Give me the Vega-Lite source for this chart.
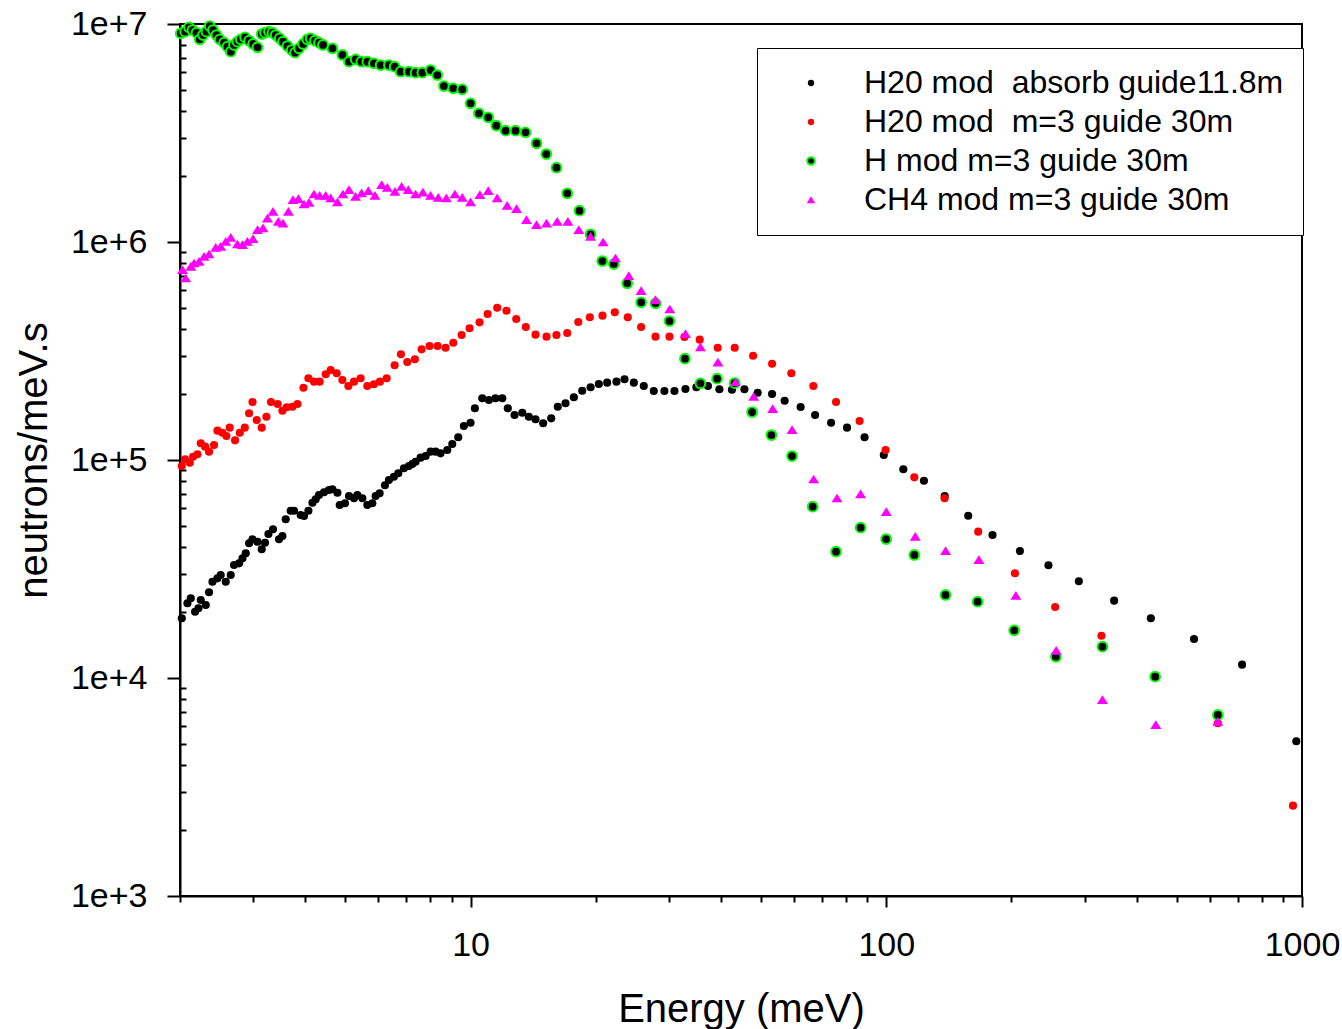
{
  "$schema": "https://vega.github.io/schema/vega-lite/v6.json",
  "width": 1122,
  "height": 872,
  "autosize": {"type": "none"},
  "padding": {"left": 180, "top": 24, "right": 40, "bottom": 133},
  "background": "white",
  "config": {
    "font": "Liberation Sans",
    "view": {"stroke": "black", "strokeWidth": 2},
    "axis": {
      "domainColor": "black", "domainWidth": 2, "tickColor": "black", "tickWidth": 2,
      "labelColor": "black", "titleColor": "black", "labelFont": "Liberation Sans", "titleFont": "Liberation Sans",
      "labelFontSize": 34, "titleFontSize": 40, "titleFontWeight": "normal", "grid": false,
      "labelOverlap": false, "labelFlush": false
    }
  },
  "data": {"values": [
    {"k":"a","E":2.020,"F":18790},{"k":"a","E":2.084,"F":22020},{"k":"a","E":2.123,"F":23210},{"k":"a","E":2.174,"F":20140},{"k":"a","E":2.215,"F":20880},{"k":"a","E":2.244,"F":22800},{"k":"a","E":2.307,"F":21620},{"k":"a","E":2.349,"F":24730},{"k":"a","E":2.394,"F":27650},{"k":"a","E":2.461,"F":28660},
    {"k":"a","E":2.506,"F":29680},{"k":"a","E":2.577,"F":27650},{"k":"a","E":2.649,"F":29680},{"k":"a","E":2.698,"F":32980},{"k":"a","E":2.774,"F":33580},{"k":"a","E":2.827,"F":35400},{"k":"a","E":2.879,"F":37330},{"k":"a","E":2.932,"F":41480},{"k":"a","E":2.988,"F":43270},{"k":"a","E":3.072,"F":42190},
    {"k":"a","E":3.145,"F":38950},{"k":"a","E":3.203,"F":41750},{"k":"a","E":3.264,"F":45770},{"k":"a","E":3.348,"F":48100},{"k":"a","E":3.461,"F":43270},{"k":"a","E":3.527,"F":44810},{"k":"a","E":3.592,"F":53460},{"k":"a","E":3.693,"F":58530},{"k":"a","E":3.761,"F":58530},{"k":"a","E":3.903,"F":55940},
    {"k":"a","E":3.975,"F":55350},{"k":"a","E":4.073,"F":58530},{"k":"a","E":4.165,"F":63700},{"k":"a","E":4.241,"F":66030},{"k":"a","E":4.319,"F":69090},{"k":"a","E":4.441,"F":71090},{"k":"a","E":4.565,"F":72850},{"k":"a","E":4.652,"F":73390},{"k":"a","E":4.783,"F":70790},{"k":"a","E":4.844,"F":62180},
    {"k":"a","E":4.988,"F":63310},{"k":"a","E":5.100,"F":68380},{"k":"a","E":5.243,"F":66730},{"k":"a","E":5.342,"F":69090},{"k":"a","E":5.491,"F":66730},{"k":"a","E":5.645,"F":62180},{"k":"a","E":5.803,"F":63310},{"k":"a","E":5.910,"F":68380},{"k":"a","E":6.043,"F":70340},{"k":"a","E":6.223,"F":76540},
    {"k":"a","E":6.362,"F":80960},{"k":"a","E":6.540,"F":83820},{"k":"a","E":6.702,"F":86900},{"k":"a","E":6.913,"F":91600},{"k":"a","E":7.107,"F":93860},{"k":"a","E":7.242,"F":95870},{"k":"a","E":7.375,"F":98220},{"k":"a","E":7.583,"F":102500},{"k":"a","E":7.796,"F":104300},{"k":"a","E":8.013,"F":109200},
    {"k":"a","E":8.238,"F":109200},{"k":"a","E":8.469,"F":107300},{"k":"a","E":8.790,"F":111200},{"k":"a","E":9.036,"F":118400},{"k":"a","E":9.341,"F":127100},{"k":"a","E":9.636,"F":143200},{"k":"a","E":10.00,"F":148300},{"k":"a","E":10.24,"F":172700},{"k":"a","E":10.67,"F":191900},{"k":"a","E":11.07,"F":188500},
    {"k":"a","E":11.48,"F":191900},{"k":"a","E":11.92,"F":191900},{"k":"a","E":12.29,"F":172700},{"k":"a","E":12.76,"F":160900},{"k":"a","E":13.32,"F":164800},{"k":"a","E":13.81,"F":158000},{"k":"a","E":14.33,"F":153700},{"k":"a","E":14.95,"F":147400},{"k":"a","E":15.63,"F":155300},{"k":"a","E":16.21,"F":175600},
    {"k":"a","E":16.92,"F":182000},{"k":"a","E":17.72,"F":193900},{"k":"a","E":18.56,"F":207900},{"k":"a","E":19.44,"F":215500},{"k":"a","E":20.35,"F":223200},{"k":"a","E":21.31,"F":226300},{"k":"a","E":22.44,"F":228700},{"k":"a","E":23.46,"F":234500},{"k":"a","E":24.70,"F":226300},{"k":"a","E":26.10,"F":218500},
    {"k":"a","E":27.59,"F":207300},{"k":"a","E":29.26,"F":207300},{"k":"a","E":30.94,"F":207300},{"k":"a","E":32.88,"F":211700},{"k":"a","E":34.93,"F":215500},{"k":"a","E":37.24,"F":218500},{"k":"a","E":39.68,"F":211000},{"k":"a","E":42.53,"F":210100},{"k":"a","E":45.57,"F":211000},{"k":"a","E":49.05,"F":203500},
    {"k":"a","E":53.12,"F":200800},{"k":"a","E":56.95,"F":187100},{"k":"a","E":62.23,"F":175000},{"k":"a","E":67.41,"F":160900},{"k":"a","E":73.66,"F":148300},{"k":"a","E":80.46,"F":140700},{"k":"a","E":88.66,"F":127100},{"k":"a","E":98.63,"F":105400},{"k":"a","E":109.9,"F":90640},{"k":"a","E":123.2,"F":80360},
    {"k":"a","E":138.2,"F":68380},{"k":"a","E":157.4,"F":55530},{"k":"a","E":180.1,"F":45290},{"k":"a","E":209.6,"F":38250},{"k":"a","E":245.5,"F":32890},{"k":"a","E":290.5,"F":27770},{"k":"a","E":353.3,"F":22630},{"k":"a","E":432.9,"F":18790},{"k":"a","E":550.0,"F":15100},{"k":"a","E":717.5,"F":11510},
    {"k":"a","E":969.0,"F":5124},
    {"k":"b","E":2.020,"F":93860},{"k":"b","E":2.057,"F":100700},{"k":"b","E":2.111,"F":97190},{"k":"b","E":2.150,"F":103500},{"k":"b","E":2.203,"F":106200},{"k":"b","E":2.244,"F":119300},{"k":"b","E":2.298,"F":115100},{"k":"b","E":2.349,"F":109200},{"k":"b","E":2.415,"F":117200},{"k":"b","E":2.461,"F":136300},
    {"k":"b","E":2.530,"F":133400},{"k":"b","E":2.586,"F":128900},{"k":"b","E":2.634,"F":140700},{"k":"b","E":2.713,"F":123100},{"k":"b","E":2.785,"F":133400},{"k":"b","E":2.863,"F":140700},{"k":"b","E":2.932,"F":163800},{"k":"b","E":2.988,"F":184600},{"k":"b","E":3.059,"F":152600},{"k":"b","E":3.145,"F":140700},
    {"k":"b","E":3.228,"F":158000},{"k":"b","E":3.311,"F":184600},{"k":"b","E":3.436,"F":180700},{"k":"b","E":3.527,"F":168300},{"k":"b","E":3.612,"F":174500},{"k":"b","E":3.728,"F":175600},{"k":"b","E":3.833,"F":180700},{"k":"b","E":3.963,"F":214600},{"k":"b","E":4.073,"F":237000},{"k":"b","E":4.201,"F":228700},
    {"k":"b","E":4.335,"F":228700},{"k":"b","E":4.482,"F":247300},{"k":"b","E":4.608,"F":258700},{"k":"b","E":4.764,"F":249900},{"k":"b","E":4.916,"F":232800},{"k":"b","E":5.082,"F":218500},{"k":"b","E":5.243,"F":228700},{"k":"b","E":5.439,"F":237000},{"k":"b","E":5.645,"F":218500},{"k":"b","E":5.854,"F":222500},
    {"k":"b","E":6.053,"F":228700},{"k":"b","E":6.282,"F":237000},{"k":"b","E":6.566,"F":271900},{"k":"b","E":6.800,"F":305400},{"k":"b","E":7.043,"F":281500},{"k":"b","E":7.346,"F":289700},{"k":"b","E":7.625,"F":321900},{"k":"b","E":7.969,"F":333300},{"k":"b","E":8.330,"F":333300},{"k":"b","E":8.708,"F":327400},
    {"k":"b","E":9.087,"F":345200},{"k":"b","E":9.515,"F":374500},{"k":"b","E":9.945,"F":401900},{"k":"b","E":10.51,"F":428100},{"k":"b","E":10.99,"F":467400},{"k":"b","E":11.59,"F":499500},{"k":"b","E":12.20,"F":484000},{"k":"b","E":12.88,"F":443500},{"k":"b","E":13.58,"F":407500},{"k":"b","E":14.33,"F":375700},
    {"k":"b","E":15.23,"F":367900},{"k":"b","E":16.09,"F":374500},{"k":"b","E":17.08,"F":382500},{"k":"b","E":18.16,"F":429600},{"k":"b","E":19.36,"F":451500},{"k":"b","E":20.77,"F":459200},{"k":"b","E":22.23,"F":476000},{"k":"b","E":23.89,"F":451500},{"k":"b","E":25.72,"F":407500},{"k":"b","E":27.85,"F":367900},
    {"k":"b","E":30.09,"F":367900},{"k":"b","E":32.69,"F":366700},{"k":"b","E":35.58,"F":356400},{"k":"b","E":39.30,"F":327400},{"k":"b","E":43.19,"F":327400},{"k":"b","E":47.82,"F":300900},{"k":"b","E":53.12,"F":276500},{"k":"b","E":59.10,"F":249900},{"k":"b","E":66.77,"F":218500},{"k":"b","E":75.70,"F":184600},
    {"k":"b","E":86.26,"F":151000},{"k":"b","E":99.6,"F":111200},{"k":"b","E":116.8,"F":83280},{"k":"b","E":138.1,"F":66730},{"k":"b","E":166.4,"F":46900},{"k":"b","E":203.9,"F":30220},{"k":"b","E":254.8,"F":21170},{"k":"b","E":329.3,"F":15630},{"k":"b","E":443.3,"F":10210},{"k":"b","E":627.3,"F":6197},
    {"k":"b","E":951.4,"F":2596},
    {"k":"c","E":2.008,"F":9064000},{"k":"c","E":2.057,"F":9220000},{"k":"c","E":2.102,"F":9658000},{"k":"c","E":2.143,"F":9386000},{"k":"c","E":2.191,"F":9123000},{"k":"c","E":2.231,"F":8508000},{"k":"c","E":2.272,"F":8903000},{"k":"c","E":2.315,"F":9220000},{"k":"c","E":2.358,"F":9790000},{"k":"c","E":2.401,"F":9386000},
    {"k":"c","E":2.447,"F":8903000},{"k":"c","E":2.493,"F":8508000},{"k":"c","E":2.553,"F":8207000},{"k":"c","E":2.601,"F":7868000},{"k":"c","E":2.649,"F":7463000},{"k":"c","E":2.698,"F":8012000},{"k":"c","E":2.749,"F":8295000},{"k":"c","E":2.800,"F":8508000},{"k":"c","E":2.868,"F":8690000},{"k":"c","E":2.932,"F":8383000},
    {"k":"c","E":2.997,"F":8097000},{"k":"c","E":3.072,"F":7818000},{"k":"c","E":3.145,"F":8997000},{"k":"c","E":3.203,"F":9123000},{"k":"c","E":3.275,"F":9220000},{"k":"c","E":3.337,"F":9123000},{"k":"c","E":3.399,"F":8903000},{"k":"c","E":3.474,"F":8599000},{"k":"c","E":3.539,"F":8295000},{"k":"c","E":3.626,"F":7926000},
    {"k":"c","E":3.713,"F":7598000},{"k":"c","E":3.782,"F":7385000},{"k":"c","E":3.867,"F":7736000},{"k":"c","E":3.954,"F":8097000},{"k":"c","E":4.050,"F":8508000},{"k":"c","E":4.124,"F":8599000},{"k":"c","E":4.224,"F":8383000},{"k":"c","E":4.319,"F":8207000},{"k":"c","E":4.416,"F":8012000},{"k":"c","E":4.652,"F":7736000},
    {"k":"c","E":4.916,"F":7209000},{"k":"c","E":5.100,"F":6716000},{"k":"c","E":5.291,"F":6888000},{"k":"c","E":5.461,"F":6716000},{"k":"c","E":5.645,"F":6716000},{"k":"c","E":5.854,"F":6603000},{"k":"c","E":6.076,"F":6485000},{"k":"c","E":6.362,"F":6485000},{"k":"c","E":6.566,"F":6370000},{"k":"c","E":6.787,"F":6041000},
    {"k":"c","E":7.107,"F":6041000},{"k":"c","E":7.375,"F":5978000},{"k":"c","E":7.655,"F":5978000},{"k":"c","E":8.013,"F":6151000},{"k":"c","E":8.316,"F":5835000},{"k":"c","E":8.627,"F":5195000},{"k":"c","E":9.087,"F":5070000},{"k":"c","E":9.550,"F":5017000},{"k":"c","E":10.00,"F":4327000},{"k":"c","E":10.47,"F":3895000},
    {"k":"c","E":11.03,"F":3732000},{"k":"c","E":11.53,"F":3416000},{"k":"c","E":12.14,"F":3240000},{"k":"c","E":12.83,"F":3240000},{"k":"c","E":13.56,"F":3185000},{"k":"c","E":14.41,"F":2837000},{"k":"c","E":15.21,"F":2533000},{"k":"c","E":16.09,"F":2192000},{"k":"c","E":17.08,"F":1673000},{"k":"c","E":18.28,"F":1392000},
    {"k":"c","E":19.44,"F":1085000},{"k":"c","E":20.74,"F":818000},{"k":"c","E":22.11,"F":792500},{"k":"c","E":23.81,"F":646400},{"k":"c","E":25.72,"F":528800},{"k":"c","E":27.85,"F":523300},{"k":"c","E":30.09,"F":434100},{"k":"c","E":32.78,"F":291500},{"k":"c","E":35.72,"F":224800},{"k":"c","E":39.17,"F":236000},
    {"k":"c","E":43.17,"F":225500},{"k":"c","E":47.55,"F":166000},{"k":"c","E":52.92,"F":130200},{"k":"c","E":59.33,"F":104300},{"k":"c","E":66.51,"F":61070},{"k":"c","E":75.70,"F":37970},{"k":"c","E":86.74,"F":48910},{"k":"c","E":99.9,"F":43410},{"k":"c","E":116.8,"F":36670},{"k":"c","E":138.8,"F":24030},
    {"k":"c","E":165.8,"F":22390},{"k":"c","E":203.1,"F":16550},{"k":"c","E":255.8,"F":12520},{"k":"c","E":331.1,"F":13920},{"k":"c","E":443.3,"F":10140},{"k":"c","E":627.3,"F":6767},
    {"k":"d","E":2.028,"F":743900},{"k":"d","E":2.065,"F":681500},{"k":"d","E":2.123,"F":770300},{"k":"d","E":2.162,"F":798500},{"k":"d","E":2.223,"F":812000},{"k":"d","E":2.285,"F":856100},{"k":"d","E":2.349,"F":878100},{"k":"d","E":2.438,"F":941600},{"k":"d","E":2.506,"F":951500},{"k":"d","E":2.577,"F":1003000},
    {"k":"d","E":2.649,"F":1046000},{"k":"d","E":2.749,"F":975900},{"k":"d","E":2.827,"F":968700},{"k":"d","E":2.905,"F":1003000},{"k":"d","E":2.997,"F":1032000},{"k":"d","E":3.072,"F":1135000},{"k":"d","E":3.168,"F":1156000},{"k":"d","E":3.246,"F":1284000},{"k":"d","E":3.348,"F":1377000},{"k":"d","E":3.449,"F":1239000},
    {"k":"d","E":3.539,"F":1218000},{"k":"d","E":3.646,"F":1377000},{"k":"d","E":3.740,"F":1558000},{"k":"d","E":3.854,"F":1575000},{"k":"d","E":3.975,"F":1489000},{"k":"d","E":4.086,"F":1515000},{"k":"d","E":4.201,"F":1655000},{"k":"d","E":4.335,"F":1631000},{"k":"d","E":4.482,"F":1631000},{"k":"d","E":4.608,"F":1587000},
    {"k":"d","E":4.783,"F":1521000},{"k":"d","E":4.932,"F":1655000},{"k":"d","E":5.100,"F":1732000},{"k":"d","E":5.291,"F":1614000},{"k":"d","E":5.470,"F":1673000},{"k":"d","E":5.676,"F":1714000},{"k":"d","E":5.888,"F":1631000},{"k":"d","E":6.111,"F":1826000},{"k":"d","E":6.306,"F":1775000},{"k":"d","E":6.577,"F":1701000},
    {"k":"d","E":6.826,"F":1794000},{"k":"d","E":7.083,"F":1732000},{"k":"d","E":7.375,"F":1655000},{"k":"d","E":7.680,"F":1690000},{"k":"d","E":8.013,"F":1631000},{"k":"d","E":8.363,"F":1597000},{"k":"d","E":8.742,"F":1587000},{"k":"d","E":9.169,"F":1655000},{"k":"d","E":9.550,"F":1597000},{"k":"d","E":10.00,"F":1521000},
    {"k":"d","E":10.53,"F":1643000},{"k":"d","E":11.03,"F":1714000},{"k":"d","E":11.59,"F":1587000},{"k":"d","E":12.25,"F":1467000},{"k":"d","E":12.90,"F":1417000},{"k":"d","E":13.63,"F":1262000},{"k":"d","E":14.41,"F":1197000},{"k":"d","E":15.23,"F":1218000},{"k":"d","E":16.16,"F":1239000},{"k":"d","E":17.14,"F":1239000},
    {"k":"d","E":18.21,"F":1135000},{"k":"d","E":19.44,"F":1057000},{"k":"d","E":20.84,"F":996800},{"k":"d","E":22.32,"F":841800},{"k":"d","E":24.02,"F":698200},{"k":"d","E":25.72,"F":595900},{"k":"d","E":27.85,"F":542000},{"k":"d","E":30.14,"F":491200},{"k":"d","E":32.88,"F":378400},{"k":"d","E":35.72,"F":328900},
    {"k":"d","E":39.36,"F":280600},{"k":"d","E":43.36,"F":227200},{"k":"d","E":47.98,"F":195200},{"k":"d","E":53.30,"F":171400},{"k":"d","E":59.33,"F":137300},{"k":"d","E":66.88,"F":81550},{"k":"d","E":76.12,"F":66730},{"k":"d","E":86.74,"F":69670},{"k":"d","E":100.0,"F":57740},{"k":"d","E":117.4,"F":44490},
    {"k":"d","E":138.9,"F":38250},{"k":"d","E":167.0,"F":34780},{"k":"d","E":205.0,"F":23850},{"k":"d","E":256.3,"F":13340},{"k":"d","E":331.1,"F":7925},{"k":"d","E":445.0,"F":6087},{"k":"d","E":627.3,"F":6302}
  ]},
  "mark": {"type": "point", "filled": true, "strokeWidth": 2, "opacity": 1, "size": 66},
  "encoding": {
    "x": {
      "field": "E", "type": "quantitative", "title": "Energy (meV)",
      "scale": {"type": "log", "domain": [2, 1000], "nice": false},
      "axis": {
        "values": [2,3,4,5,6,7,8,9,10,20,30,40,50,60,70,80,90,100,200,300,400,500,600,700,800,900,1000],
        "format": "d",
        "labelExpr": "indexof([10,100,1000], datum.value) >= 0 ? datum.label : ''",
        "tickSize": {"condition": {"test": "indexof([10,100,1000], datum.value) >= 0", "value": 11}, "value": 6},
        "labelPadding": 21, "titlePadding": 27
      }
    },
    "y": {
      "field": "F", "type": "quantitative", "title": "neutrons/meV.s",
      "scale": {"type": "log", "domain": [1000, 10000000], "nice": false},
      "axis": {
        "values": [1000,2000,3000,4000,5000,6000,7000,8000,9000,10000,20000,30000,40000,50000,60000,70000,80000,90000,100000,200000,300000,400000,500000,600000,700000,800000,900000,1000000,2000000,3000000,4000000,5000000,6000000,7000000,8000000,9000000,10000000],
        "format": ".0e",
        "labelExpr": "indexof([1000,10000,100000,1000000,10000000], datum.value) >= 0 ? datum.label : ''",
        "tickSize": {"condition": {"test": "indexof([1000,10000,100000,1000000,10000000], datum.value) >= 0", "value": 13}, "value": -6},
        "labelPadding": 20, "titlePadding": 16
      }
    },
    "fill": {
      "field": "k", "type": "nominal",
      "scale": {"domain": ["a","b","c","d"], "range": ["#000000","#ff0000","#000000","#ff00ff"]},
      "legend": {
        "title": null, "orient": "none", "legendX": 577, "legendY": 24, "padding": 19,
        "strokeColor": "black", "fillColor": "white",
        "labelFont": "Liberation Sans", "labelFontSize": 32, "labelColor": "black", "labelLimit": 700,
        "rowPadding": 7, "symbolOffset": 19, "labelOffset": 37, "symbolSize": 40, "symbolStrokeWidth": 2,
        "labelExpr": "datum.value == 'a' ? 'H20 mod \u00a0absorb guide11.8m' : datum.value == 'b' ? 'H20 mod \u00a0m=3 guide 30m' : datum.value == 'c' ? 'H mod m=3 guide 30m' : 'CH4 mod m=3 guide 30m'",
        "encode": {"legend": {"update": {"strokeWidth": {"value": 1.5}}}}
      }
    },
    "stroke": {
      "field": "k", "type": "nominal",
      "scale": {"domain": ["a","b","c","d"], "range": ["transparent","transparent","#00ff00","transparent"]}
    },
    "shape": {
      "field": "k", "type": "nominal",
      "scale": {"domain": ["a","b","c","d"], "range": ["circle","circle","M1.2,0A1.2,1.2,0,1,1,-1.2,0A1.2,1.2,0,1,1,1.2,0Z","M0,-1.15L1.35,1L-1.35,1Z"]}
    }
  }
}
